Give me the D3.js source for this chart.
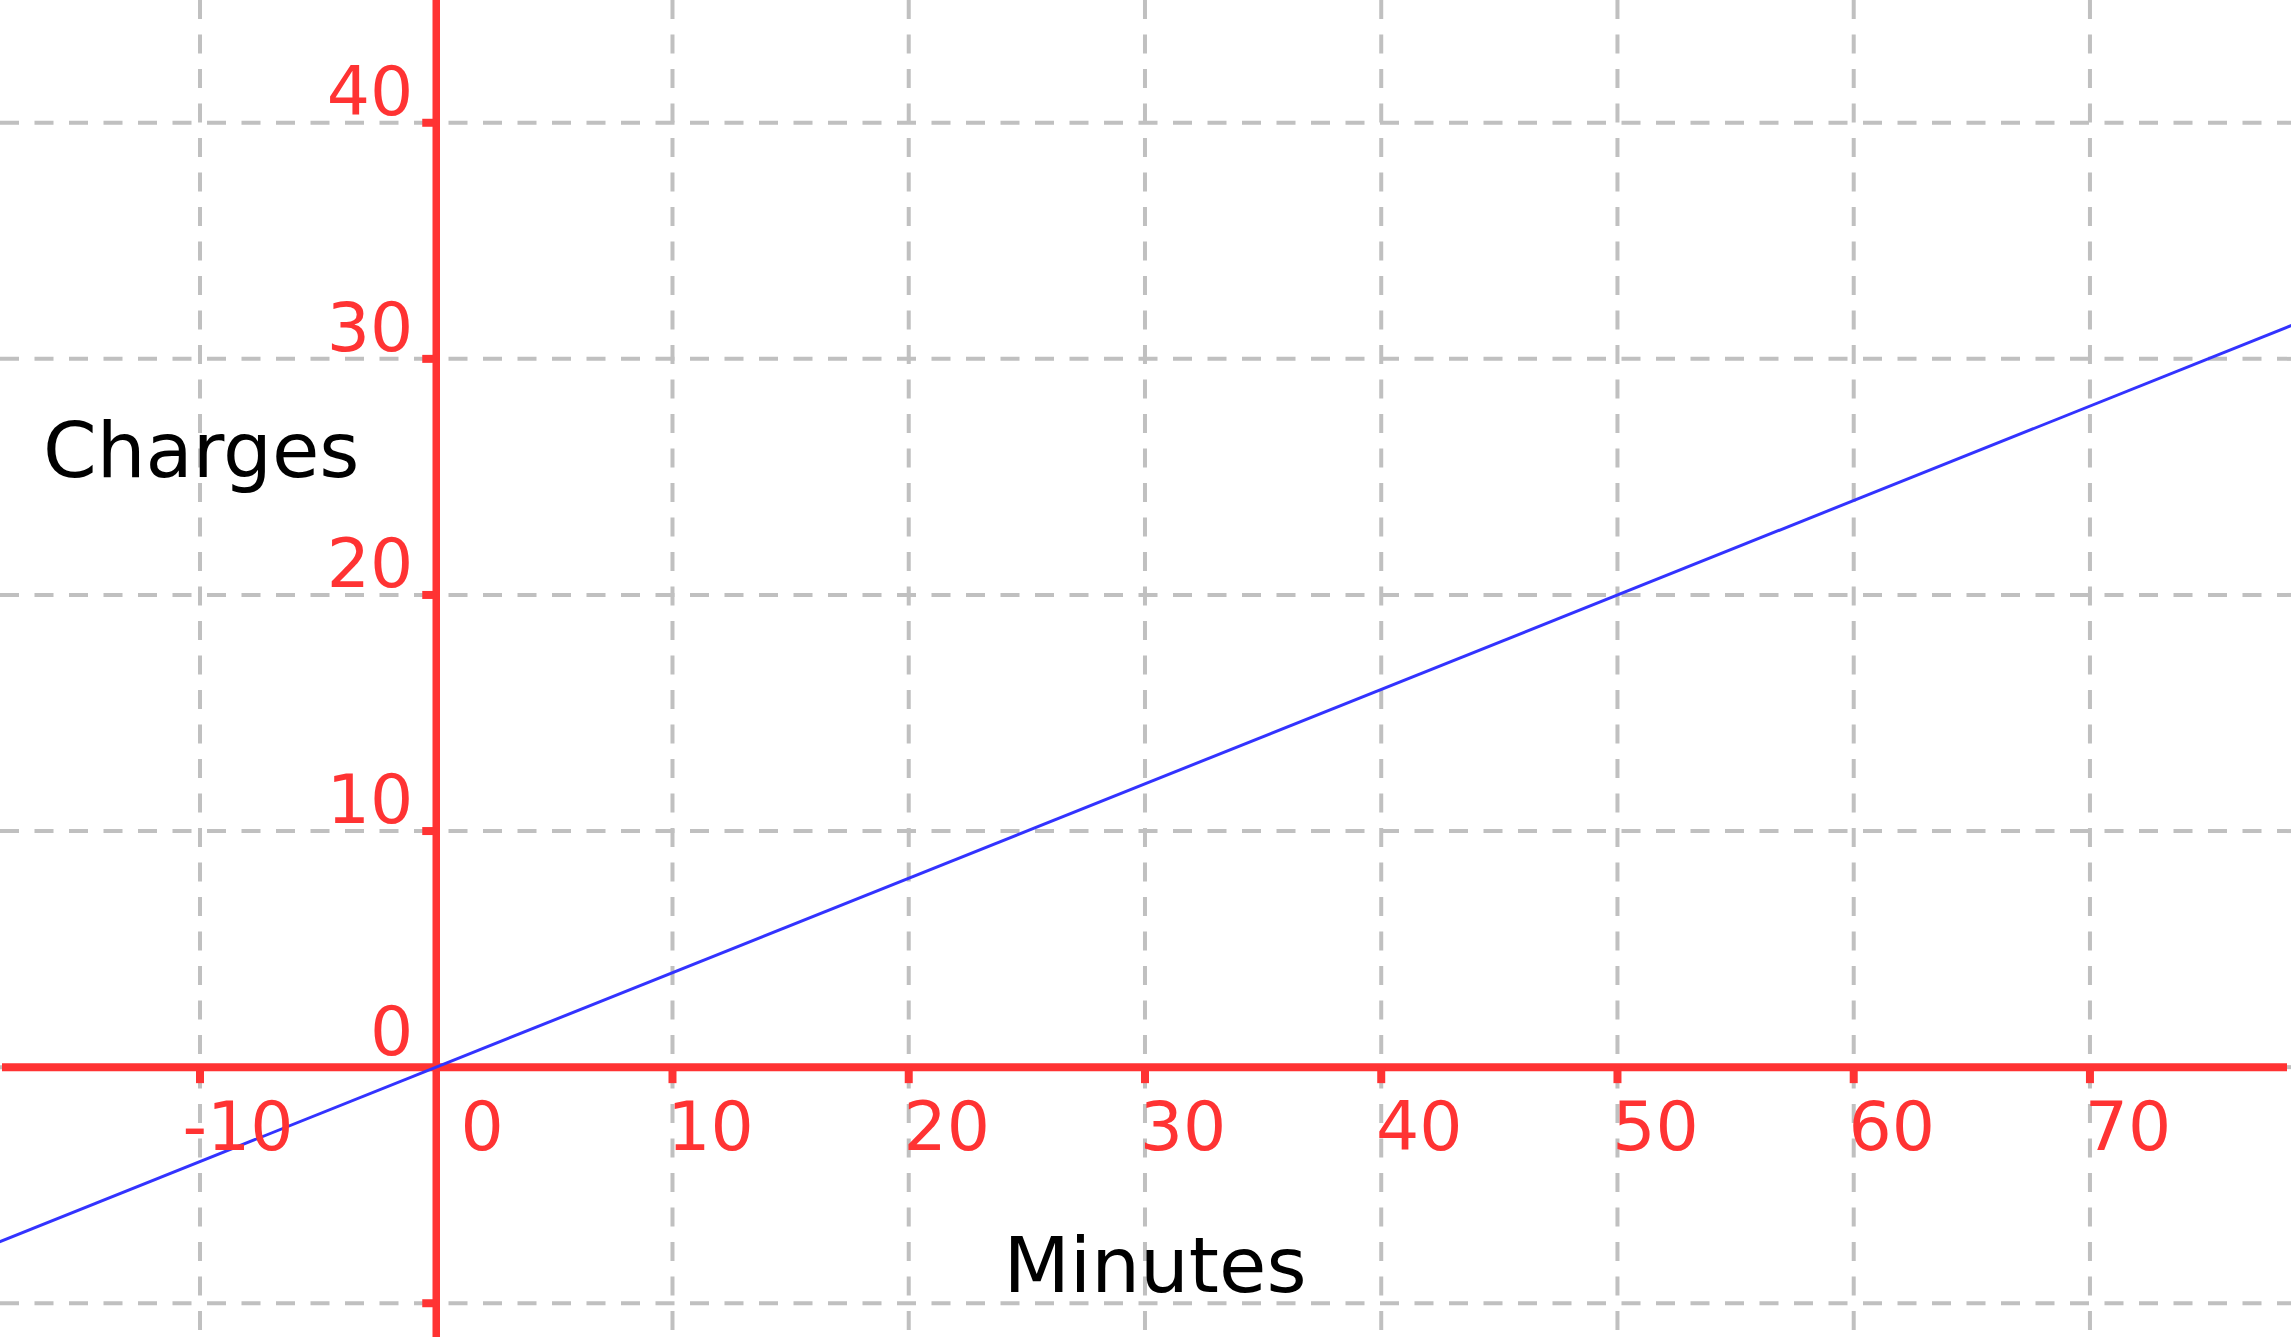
<!DOCTYPE html>
<html>
<head>
<meta charset="utf-8">
<script src="https://cdn.jsdelivr.net/npm/d3@7"></script>
<style>
  html, body { margin: 0; padding: 0; background: #fff; }
  svg { display: block; }
  text { font-family: "DejaVu Sans", sans-serif; }
</style>
</head>
<body>
<svg id="chart" width="2291" height="1337"></svg>
<script>
// ---- data ----
const xTicks = [-10, 0, 10, 20, 30, 40, 50, 60, 70];
const yTicks = [-10, 0, 10, 20, 30, 40];
const xTickLabels = ["-10", "0", "10", "20", "30", "40", "50", "60", "70"];
const yTickLabels = ["-10", "0", "10", "20", "30", "40"];
const lineMinutes = [-20, 80];
const lineCharges = [-8, 32];
const xTitle = "Minutes";
const yTitle = "Charges";

// ---- layout ----
const W = 2291, H = 1337;
const red = "#ff3333", blue = "#3333ff", gridCol = "#c0c0c0";
const x = d3.scaleLinear().domain([-18.466, 78.51]).range([0, W]);
const y = d3.scaleLinear().domain([45.2, -11.43]).range([0, H]);

const svg = d3.select("#chart");

// grid
svg.append("g").selectAll("line").data(xTicks.filter(d => d !== 0)).join("line")
  .attr("x1", d => x(d)).attr("x2", d => x(d))
  .attr("y1", 0).attr("y2", H)
  .attr("stroke", gridCol).attr("stroke-width", 4)
  .attr("stroke-dasharray", "19,15.5");
svg.append("g").selectAll("line").data(yTicks).join("line")
  .attr("x1", 0).attr("x2", W)
  .attr("y1", d => y(d)).attr("y2", d => y(d))
  .attr("stroke", gridCol).attr("stroke-width", 4)
  .attr("stroke-dasharray", "19,15.5");

// axes
svg.append("line")
  .attr("x1", x(0)).attr("x2", x(0)).attr("y1", 0).attr("y2", H)
  .attr("stroke", red).attr("stroke-width", 7.5);
svg.append("line")
  .attr("x1", 2).attr("x2", 2287).attr("y1", y(0)).attr("y2", y(0))
  .attr("stroke", red).attr("stroke-width", 8);

// ticks
svg.append("g").selectAll("line").data(xTicks.filter(d => d !== 0)).join("line")
  .attr("x1", d => x(d)).attr("x2", d => x(d))
  .attr("y1", y(0)).attr("y2", y(0) + 16)
  .attr("stroke", red).attr("stroke-width", 8);
svg.append("g").selectAll("line").data(yTicks.filter(d => d !== 0)).join("line")
  .attr("x1", x(0) - 14).attr("x2", x(0))
  .attr("y1", d => y(d)).attr("y2", d => y(d))
  .attr("stroke", red).attr("stroke-width", 8);

// data line
const lineData = lineMinutes.map((m, i) => [m, lineCharges[i]]);
svg.append("path")
  .datum(lineData)
  .attr("d", d3.line().x(d => x(d[0])).y(d => y(d[1])))
  .attr("fill", "none").attr("stroke", blue).attr("stroke-width", 3);

// tick labels
svg.append("g").selectAll("text").data(xTicks).join("text")
  .attr("x", d => x(d) + (d === 0 ? 46 : 38))
  .attr("y", y(0) + 83)
  .attr("text-anchor", "middle")
  .attr("font-size", 68).attr("fill", red)
  .text((d, i) => xTickLabels[i]);
svg.append("g").selectAll("text").data(yTicks.filter(d => d !== -10)).join("text")
  .attr("x", x(0) - 23)
  .attr("y", d => y(d) - (d === 0 ? 12 : 8))
  .attr("text-anchor", "end")
  .attr("font-size", 68).attr("fill", red)
  .text(d => yTickLabels[yTicks.indexOf(d)]);

// titles
svg.append("text").attr("x", 43).attr("y", 477)
  .attr("font-size", 77).attr("fill", "#000").text(yTitle);
svg.append("text").attr("x", 1155).attr("y", 1292)
  .attr("text-anchor", "middle")
  .attr("font-size", 77).attr("fill", "#000").text(xTitle);
</script>
</body>
</html>
